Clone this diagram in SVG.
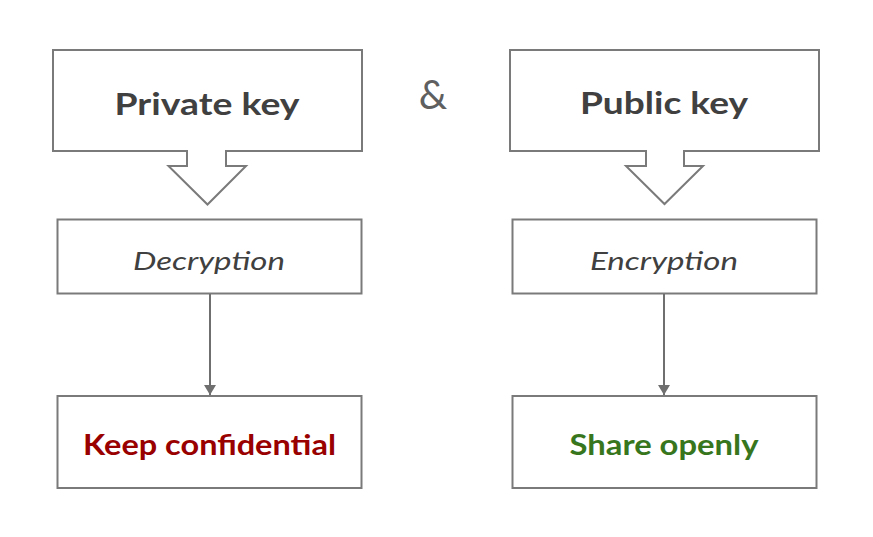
<svg xmlns="http://www.w3.org/2000/svg" width="873" height="537" viewBox="0 0 873 537">
<defs>
<style>
.box{fill:#ffffff;stroke:#7a7a7a;stroke-width:2}
.conn{stroke:#6f6f6f;stroke-width:2;fill:none}
.title{font-family:Lato,"Open Sans",sans-serif;font-weight:bold;font-size:31px;fill:#404040;text-anchor:middle}
.op{font-family:Lato,"Open Sans",sans-serif;font-style:italic;font-size:25px;fill:#404040;text-anchor:middle}
.res{font-family:Lato,"Open Sans",sans-serif;font-weight:bold;font-size:28px;text-anchor:middle}
</style>
<marker id="arr" viewBox="0 0 10 12" refX="10" refY="6" markerWidth="10" markerHeight="12" markerUnits="userSpaceOnUse" orient="auto">
<path d="M0,0 L10,6 L0,12 Z" fill="#6f6f6f"/>
</marker>
</defs>
<rect width="873" height="537" fill="#ffffff"/>
<g id="private-key">
<path class="box" d="M53,50 H362 V151 H226 V166 H246 L207.5,204.5 L168.5,166 H187 V151 H53 Z"/>
<text class="title" x="207" y="115" textLength="185" lengthAdjust="spacingAndGlyphs">Private key</text>
</g>
<g id="ampersand">
<text x="433" y="109" font-family="Lato,'Open Sans',sans-serif" font-size="40" fill="#5f5f5f" text-anchor="middle">&amp;</text>
</g>
<g id="public-key">
<path class="box" d="M510,50 H819 V151 H684 V166 H703 L664.5,204 L626,166 H646 V151 H510 Z"/>
<text class="title" x="664" y="114" textLength="168" lengthAdjust="spacingAndGlyphs">Public key</text>
</g>
<g id="decryption">
<rect class="box" x="57.5" y="219.5" width="304" height="74"/>
<text class="op" x="209" y="270" textLength="152" lengthAdjust="spacingAndGlyphs">Decryption</text>
</g>
<g id="encryption">
<rect class="box" x="512.5" y="219.5" width="304" height="74"/>
<text class="op" x="664" y="270" textLength="148" lengthAdjust="spacingAndGlyphs">Encryption</text>
</g>
<g id="keep-confidential">
<rect class="box" x="57.5" y="396" width="304" height="92"/>
<text class="res" x="209.5" y="455" fill="#990000" textLength="253" lengthAdjust="spacingAndGlyphs">Keep confidential</text>
</g>
<g id="share-openly">
<rect class="box" x="512.5" y="396" width="304" height="92"/>
<text class="res" x="664" y="455" fill="#38761d" textLength="189" lengthAdjust="spacingAndGlyphs">Share openly</text>
</g>
<g id="connectors">
<line class="conn" x1="210" y1="294" x2="210" y2="395" marker-end="url(#arr)"/>
<line class="conn" x1="664" y1="294" x2="664" y2="395" marker-end="url(#arr)"/>
</g>
</svg>
